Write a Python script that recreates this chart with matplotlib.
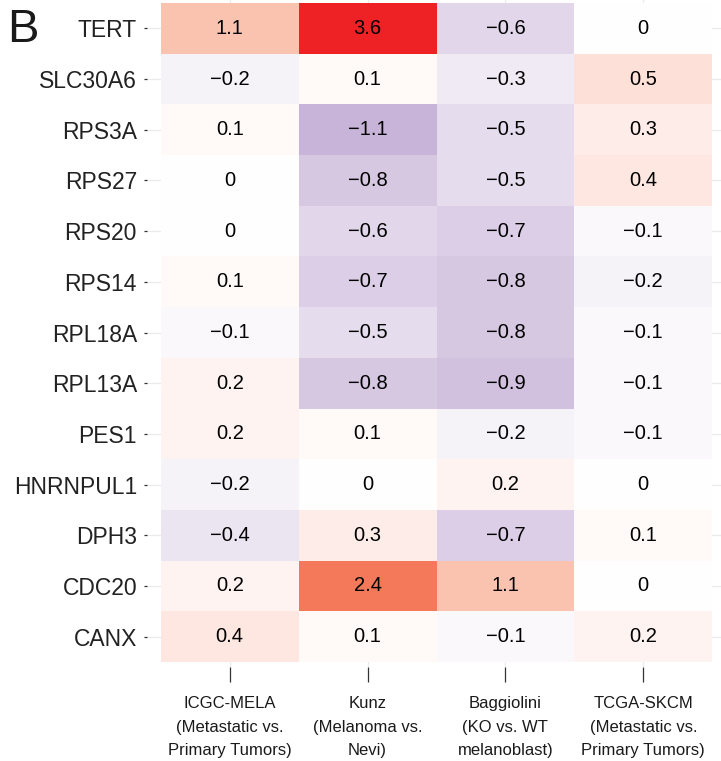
import numpy as np
import matplotlib
matplotlib.use("Agg")
import matplotlib.pyplot as plt
from matplotlib.colors import LinearSegmentedColormap, Normalize

genes = ["TERT", "SLC30A6", "RPS3A", "RPS27", "RPS20", "RPS14", "RPL18A",
         "RPL13A", "PES1", "HNRNPUL1", "DPH3", "CDC20", "CANX"]
datasets = ["ICGC-MELA\n(Metastatic vs.\nPrimary Tumors)",
            "Kunz\n(Melanoma vs.\nNevi)",
            "Baggiolini\n(KO vs. WT\nmelanoblast)",
            "TCGA-SKCM\n(Metastatic vs.\nPrimary Tumors)"]
icgc = [1.1, -0.2, 0.1, 0, 0, 0.1, -0.1, 0.2, 0.2, -0.2, -0.4, 0.2, 0.4]
kunz = [3.6, 0.1, -1.1, -0.8, -0.6, -0.7, -0.5, -0.8, 0.1, 0, 0.3, 2.4, 0.1]
baggiolini = [-0.6, -0.3, -0.5, -0.5, -0.7, -0.8, -0.8, -0.9, -0.2, 0.2, -0.7, 1.1, -0.1]
tcga = [0, 0.5, 0.3, 0.4, -0.1, -0.2, -0.1, -0.1, -0.1, 0, 0.1, 0, 0.2]

values = np.array([icgc, kunz, baggiolini, tcga]).T  # rows = genes

vmin, vmax = -1.1, 3.6
def frac(v):
    return (v - vmin) / (vmax - vmin)
cmap = LinearSegmentedColormap.from_list("div", [
    (0.0, "#C8B4D8"),
    (frac(0.0), "#FFFFFF"),
    (frac(0.5), "#FDE0D8"),
    (frac(1.1), "#F9C3B0"),
    (frac(2.4), "#F4795A"),
    (1.0, "#EE2224"),
])
norm = Normalize(vmin=vmin, vmax=vmax)

W, H = 721, 761
fig = plt.figure(figsize=(W / 100, H / 100), dpi=100)
left, right, top, bottom = 147, 726, -2, 667
ax = fig.add_axes([left / W, 1 - bottom / H, (right - left) / W, (bottom - top) / H])

nrow, ncol = values.shape
xe = np.arange(ncol + 1) + 0.5
ye = np.arange(nrow + 1) + 0.5
ax.pcolormesh(xe, ye, values, cmap=cmap, norm=norm, zorder=1)

for i in range(nrow):
    for j in range(ncol):
        v = values[i, j]
        s = "0" if v == 0 else f"{v:g}".replace("-", "\u2212")
        ax.text(j + 1, i + 1, s, ha="center", va="center", fontsize=14.5,
                color="black", family="Liberation Sans", zorder=3)

ax.set_xlim(0.4, 4.6)
ax.set_ylim(nrow + 0.6, 0.4)
ax.set_xticks(np.arange(1, ncol + 1))
ax.set_xticklabels([""] * ncol)
label_y = (bottom - 696) / (bottom - top)
for j, lab in enumerate(datasets):
    ax.text(j + 1, label_y, lab, transform=ax.get_xaxis_transform(),
            ha="center", va="top", multialignment="center", linespacing=1.72,
            fontsize=12, family="Liberation Sans", color="#1a1a1a", clip_on=False)
ax.set_yticks(np.arange(1, nrow + 1))
ax.set_yticklabels(genes, fontsize=16.5, family="Liberation Sans", color="#222222")
ax.tick_params(axis="y", length=2.2, width=0.9, color="#333333", pad=5)
ax.tick_params(axis="x", length=10.8, width=0.9, color="#333333", pad=8)
ax.set_axisbelow(True)
ax.grid(True, color="#EBEBEB", linewidth=0.9)
for sp in ax.spines.values():
    sp.set_visible(False)

fig.text(7 / W, 1 - 8 / H, "B", fontsize=34, family="Liberation Sans",
         color="#1a1a1a", ha="left", va="top")

fig.savefig("out.png", dpi=100, facecolor="white")
